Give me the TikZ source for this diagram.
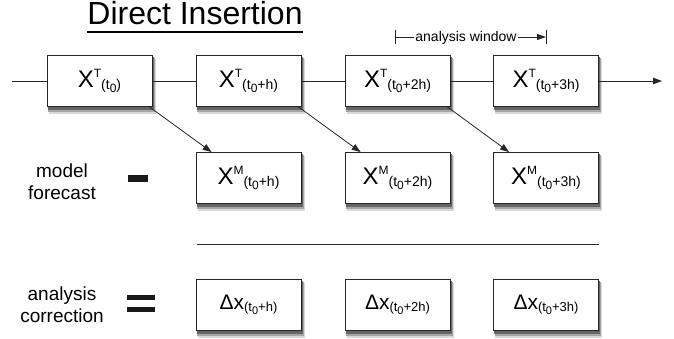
\documentclass[tikz,border=0pt]{standalone}
\usepackage{fontspec}
\setmainfont{Liberation Sans}
\usetikzlibrary{arrows.meta}
\newcommand{\fs}[1]{\fontsize{#1}{#1}\selectfont}
\newcommand{\Xsym}[3]{{\fs{24}X}\raisebox{10pt}{\fs{12}#1}\raisebox{-2pt}{\fs{14}(t\raisebox{-3.5pt}{\fs{12}0}#2)}}
\newcommand{\Dsym}[1]{{\fs{21}Δx}\raisebox{-1.5pt}{\fs{13}(t\raisebox{-3pt}{\fs{11}0}#1)}}
\begin{document}
\begin{tikzpicture}[x=1pt,y=-1pt,
  box/.style={draw=black!85,line width=0.8pt,fill=white,minimum width=105pt,minimum height=51pt,inner sep=0pt},
  conn/.style={line width=0.8pt,draw=black!85},
  arr/.style={conn,-{Triangle[length=9pt,width=6.5pt]}},
  lbl/.style={align=center,font=\fontsize{19}{22}\selectfont,inner sep=0pt},
  sym/.style={fill=black!90,draw=none}
]
\useasboundingbox (0,0) rectangle (674,339);
% shadows (drawn first, boxes cover them)
\foreach \cx/\cy in {99.5/81,248.5/81,397.5/81,546/81,248.5/178,397.5/178,546/178,248.5/305,397.5/305,546/305}{
  \fill[black!15] (\cx-51,\cy-22) rectangle (\cx+56,\cy+33);
  \fill[black!35] (\cx-51.5,\cy-23) rectangle (\cx+55,\cy+31);
  \fill[black!60] (\cx-52,\cy-24) rectangle (\cx+54,\cy+29);
}
% title
\node[anchor=base,inner sep=0pt,font=\fs{32}] (title) at (195,25) {Direct Insertion};
\draw[line width=2.8pt] ([yshift=-7pt]title.base west) -- ([yshift=-7pt]title.base east);
% top row
\node[box] (b1) at (99.5,81) {\Xsym{T}{}{}};
\node[box] (b2) at (248.5,81) {\Xsym{T}{+h}{}};
\node[box] (b3) at (397.5,81) {\Xsym{T}{+2h}{}};
\node[box] (b4) at (546,81) {\Xsym{T}{+3h}{}};
\coordinate (ls) at (12,81);
\coordinate (le) at (662,81);
\draw[conn] (ls) -- (b1);
\draw[conn] (b1) -- (b2);
\draw[conn] (b2) -- (b3);
\draw[conn] (b3) -- (b4);
\draw[arr] (b4) -- (le);
% analysis window
\coordinate (wl) at (395,37);
\coordinate (wr) at (546,37);
\node[inner sep=1.5pt,font=\fs{14}] (aw) at (466,37.5) {analysis window};
\draw[conn] ([yshift=7pt]wl) -- ([yshift=-7pt]wl);
\draw[conn] ([yshift=7pt]wr) -- ([yshift=-7pt]wr);
\draw[conn] (wl) -- (aw.west |- wl);
\draw[conn,-{Triangle[length=9pt,width=6pt]}] (aw.east |- wr) -- (wr);
% middle row
\node[box] (m1) at (248.5,178) {\Xsym{M}{+h}{}};
\node[box] (m2) at (397.5,178) {\Xsym{M}{+2h}{}};
\node[box] (m3) at (546,178) {\Xsym{M}{+3h}{}};
\draw[arr] ([xshift=-3pt]b1.south east) -- ([xshift=16pt]m1.north west);
\draw[arr] ([xshift=-3pt]b2.south east) -- ([xshift=16pt]m2.north west);
\draw[arr] ([xshift=-3pt]b3.south east) -- ([xshift=16pt]m3.north west);
\node[lbl] (mf) at (62,181.5) {model\\forecast};
\fill[sym] (128,175) rectangle (148,182);
% rule
\coordinate (r1) at (197,244);
\coordinate (r2) at (599,244);
\draw[conn] (r1) -- (r2);
% bottom row
\node[box] (d1) at (248.5,305) {\Dsym{+h}};
\node[box] (d2) at (397.5,305) {\Dsym{+2h}};
\node[box] (d3) at (546,305) {\Dsym{+3h}};
\node[lbl] (ac) at (62,304.5) {analysis\\correction};
\fill[sym] (127,295) rectangle (155,300);
\fill[sym] (127,307) rectangle (155,312);
\end{tikzpicture}
\end{document}
